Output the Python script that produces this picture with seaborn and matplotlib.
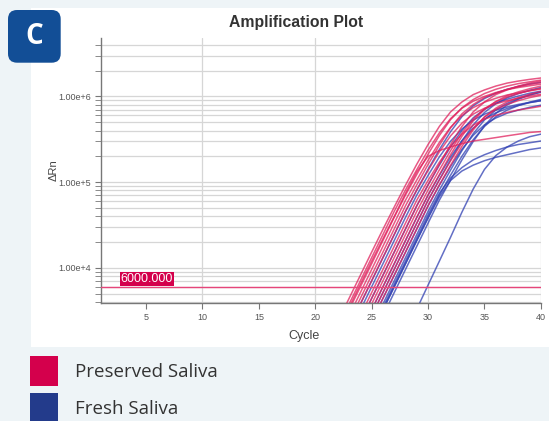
import numpy as np
import pandas as pd
import seaborn as sns
import matplotlib.pyplot as plt
from matplotlib.patches import Rectangle, FancyBboxPatch
from matplotlib.ticker import LogLocator, FuncFormatter, NullFormatter

# delta Rn per well for cycles 22..40 (earlier cycles sit below the axis)
cycles = list(range(22, 41))

preserved = [
    [2.37e3, 4.42e3, 8.22e3, 1.53e4, 2.82e4, 5.13e4, 9.23e4, 1.62e5, 2.75e5, 4.47e5, 6.61e5, 8.61e5, 1.05e6, 1.19e6, 1.32e6, 1.43e6, 1.51e6, 1.58e6, 1.64e6],
    [2.04e3, 3.80e3, 7.08e3, 1.32e4, 2.45e4, 4.57e4, 8.13e4, 1.40e5, 2.36e5, 3.76e5, 5.52e5, 7.28e5, 8.79e5, 1.00e6, 1.11e6, 1.20e6, 1.27e6, 1.33e6, 1.39e6],
    [1.82e3, 3.47e3, 6.46e3, 1.20e4, 2.19e4, 3.98e4, 7.41e4, 1.32e5, 2.00e5, 2.34e5, 2.57e5, 2.82e5, 3.02e5, 3.16e5, 3.31e5, 3.47e5, 3.63e5, 3.80e5, 3.89e5],
    [1.74e3, 3.24e3, 6.03e3, 1.12e4, 2.09e4, 3.89e4, 7.08e4, 1.23e5, 2.12e5, 3.50e5, 5.37e5, 7.36e5, 9.20e5, 1.08e6, 1.21e6, 1.32e6, 1.41e6, 1.48e6, 1.55e6],
    [1.49e3, 2.77e3, 5.16e3, 9.61e3, 1.79e4, 3.33e4, 6.17e4, 1.06e5, 1.80e5, 2.91e5, 4.38e5, 5.97e5, 7.41e5, 8.57e5, 9.51e5, 1.04e6, 1.10e6, 1.16e6, 1.22e6],
    [1.27e3, 2.37e3, 4.42e3, 8.22e3, 1.53e4, 2.85e4, 5.31e4, 9.31e4, 1.61e5, 2.70e5, 4.31e5, 6.27e5, 8.05e5, 9.70e5, 1.09e6, 1.21e6, 1.30e6, 1.38e6, 1.45e6],
    [1.09e3, 2.04e3, 3.80e3, 7.08e3, 1.32e4, 2.45e4, 4.57e4, 8.09e4, 1.37e5, 2.26e5, 3.47e5, 4.88e5, 6.22e5, 7.29e5, 8.18e5, 8.91e5, 9.57e5, 1.01e6, 1.06e6],
    [799, 1.49e3, 2.77e3, 5.16e3, 9.61e3, 1.79e4, 3.33e4, 6.17e4, 1.05e5, 1.71e5, 2.61e5, 3.63e5, 4.63e5, 5.43e5, 6.03e5, 6.51e5, 6.95e5, 7.29e5, 7.67e5],
    [684, 1.27e3, 2.37e3, 4.42e3, 8.22e3, 1.53e4, 2.85e4, 5.31e4, 9.33e4, 1.62e5, 2.75e5, 4.47e5, 6.61e5, 8.61e5, 1.05e6, 1.19e6, 1.32e6, 1.43e6, 1.51e6],
    [586, 1.09e3, 2.04e3, 3.80e3, 7.08e3, 1.32e4, 2.45e4, 4.57e4, 8.11e4, 1.39e5, 2.34e5, 3.73e5, 5.46e5, 7.16e5, 8.63e5, 9.82e5, 1.08e6, 1.17e6, 1.24e6],
    [501, 933, 1.74e3, 3.24e3, 6.03e3, 1.12e4, 2.09e4, 3.89e4, 7.08e4, 1.22e5, 2.10e5, 3.43e5, 5.19e5, 7.04e5, 8.73e5, 1.02e6, 1.13e6, 1.23e6, 1.32e6],
    [429, 799, 1.49e3, 2.77e3, 5.16e3, 9.61e3, 1.79e4, 3.33e4, 6.17e4, 1.06e5, 1.78e5, 2.86e5, 4.24e5, 5.73e5, 7.04e5, 8.08e5, 8.93e5, 9.68e5, 1.03e6],
    [367, 684, 1.27e3, 2.37e3, 4.42e3, 8.22e3, 1.53e4, 2.85e4, 5.31e4, 9.29e4, 1.58e5, 2.62e5, 4.07e5, 5.78e5, 7.29e5, 8.65e5, 9.66e5, 1.06e6, 1.14e6],
]

fresh = [
    [1.09e3, 2.04e3, 3.80e3, 7.08e3, 1.32e4, 2.45e4, 4.57e4, 8.13e4, 1.41e5, 2.40e5, 3.89e5, 5.81e5, 7.76e5, 9.46e5, 1.09e6, 1.21e6, 1.31e6, 1.40e6, 1.46e6],
    [933, 1.74e3, 3.24e3, 6.03e3, 1.12e4, 2.09e4, 3.89e4, 7.08e4, 1.20e5, 1.97e5, 3.01e5, 4.17e5, 5.30e5, 6.21e5, 6.93e5, 7.53e5, 8.07e5, 8.51e5, 8.91e5],
    [684, 1.27e3, 2.37e3, 4.42e3, 8.22e3, 1.53e4, 2.85e4, 5.31e4, 9.28e4, 1.58e5, 2.59e5, 4.00e5, 5.63e5, 7.06e5, 8.32e5, 9.27e5, 1.01e6, 1.09e6, 1.15e6],
    [501, 933, 1.74e3, 3.24e3, 6.03e3, 1.12e4, 2.09e4, 3.89e4, 7.08e4, 1.20e5, 1.98e5, 3.05e5, 4.27e5, 5.46e5, 6.43e5, 7.23e5, 7.85e5, 8.45e5, 8.91e5],
    [429, 799, 1.49e3, 2.77e3, 5.16e3, 9.61e3, 1.79e4, 3.33e4, 6.17e4, 1.07e5, 1.83e5, 3.02e5, 4.66e5, 6.50e5, 8.22e5, 9.64e5, 1.08e6, 1.18e6, 1.27e6],
    [367, 684, 1.27e3, 2.37e3, 4.42e3, 8.22e3, 1.53e4, 2.85e4, 5.31e4, 9.23e4, 1.53e5, 2.42e5, 3.52e5, 4.67e5, 5.60e5, 6.37e5, 6.93e5, 7.46e5, 7.91e5],
    [314, 586, 1.09e3, 2.04e3, 3.80e3, 7.08e3, 1.32e4, 2.45e4, 4.57e4, 8.11e4, 1.39e5, 2.33e5, 3.67e5, 5.32e5, 6.94e5, 8.31e5, 9.43e5, 1.04e6, 1.12e6],
    [269, 501, 933, 1.74e3, 3.24e3, 6.03e3, 1.12e4, 2.09e4, 3.89e4, 7.08e4, 1.21e5, 2.01e5, 3.13e5, 4.47e5, 5.79e5, 6.92e5, 7.82e5, 8.57e5, 9.23e5],
    [230, 429, 799, 1.49e3, 2.77e3, 5.16e3, 9.61e3, 1.79e4, 3.33e4, 6.17e4, 1.06e5, 1.82e5, 2.98e5, 4.56e5, 6.32e5, 7.94e5, 9.27e5, 1.04e6, 1.13e6],
    [269, 501, 933, 1.74e3, 3.24e3, 6.03e3, 1.12e4, 2.09e4, 3.80e4, 6.76e4, 1.05e5, 1.35e5, 1.58e5, 1.78e5, 1.95e5, 2.09e5, 2.24e5, 2.40e5, 2.51e5],
    [288, 537, 1.00e3, 1.86e3, 3.47e3, 6.46e3, 1.20e4, 2.24e4, 4.17e4, 7.41e4, 1.12e5, 1.48e5, 1.82e5, 2.09e5, 2.34e5, 2.57e5, 2.75e5, 2.88e5, 3.02e5],
    [36, 69, 132, 251, 479, 912, 1.74e3, 3.31e3, 6.31e3, 1.20e4, 2.29e4, 4.47e4, 8.32e4, 1.41e5, 2.04e5, 2.57e5, 3.02e5, 3.39e5, 3.63e5],
]

threshold = 6000
groups = ["Preserved Saliva", "Fresh Saliva"]
line_colors = {"Preserved Saliva": "#e0205c", "Fresh Saliva": "#2f3fb2"}
key_colors = {"Preserved Saliva": "#d4004c", "Fresh Saliva": "#233b8b"}

rows = []
for name, curves in zip(groups, [preserved, fresh]):
    for i, vals in enumerate(curves):
        for c, v in zip(cycles, vals):
            rows.append((name, f"{name}-{i}", c, v))
df = pd.DataFrame(rows, columns=["sample", "well", "Cycle", "dRn"])

sns.set_style("white")
plt.rcParams["font.family"] = ["Liberation Sans", "DejaVu Sans"]

W, H = 549, 421
fig = plt.figure(figsize=(W / 100, H / 100), dpi=100, facecolor="#eef4f7")

# white card behind the chart
fig.patches.append(Rectangle((31 / W, 74 / H), 518 / W, 339 / H, transform=fig.transFigure,
                             facecolor="white", edgecolor="none", zorder=-5))

ax = fig.add_axes([100.9 / W, 118 / H, 440 / W, 265 / H])
ax.set_facecolor("white")
ax.set_axisbelow(True)

for x in [10, 20, 30, 40]:
    ax.axvline(x, color="#d6d6d6", lw=0.9, zorder=0)

sns.lineplot(data=df, x="Cycle", y="dRn", hue="sample", units="well", estimator=None,
             hue_order=["Fresh Saliva", "Preserved Saliva"], palette=line_colors,
             lw=1.1, alpha=0.75, legend=False, ax=ax)

ax.axhline(threshold, color="#e6457a", lw=1.0, zorder=3)
ax.text(2.75, 7.45e3, "6000.000", color="white", fontsize=9, va="center", ha="left",
        bbox=dict(facecolor="#d4004c", edgecolor="none", pad=0.8), zorder=4)

ax.set_yscale("log")
ax.set_xlim(1, 40)
ax.set_ylim(3.9e3, 4.8e6)
ax.set_xticks(range(5, 41, 5))
ax.yaxis.set_major_locator(LogLocator(base=10, numticks=10))
ax.yaxis.set_minor_locator(LogLocator(base=10, subs=np.arange(2, 10), numticks=20))
ax.yaxis.set_major_formatter(FuncFormatter(lambda v, p: f"1.00e+{int(round(np.log10(v)))}"))
ax.yaxis.set_minor_formatter(NullFormatter())
ax.grid(which="both", axis="y", color="#d6d6d6", lw=0.9)
ax.grid(False, axis="x")

ax.set_xlabel("")
ax.set_ylabel("")
for s in ["top", "right"]:
    ax.spines[s].set_visible(False)
for s in ["left", "bottom"]:
    ax.spines[s].set_color("#777777")
    ax.spines[s].set_linewidth(1)
ax.tick_params(axis="both", which="both", bottom=True, left=True, direction="out",
               color="#777777", labelcolor="#555555", labelsize=6.5)
ax.tick_params(axis="both", which="major", length=4, pad=3)
ax.tick_params(axis="y", which="minor", length=4)

fig.text(296 / W, 1 - 22 / H, "Amplification Plot", ha="center", va="center",
         fontsize=11.3, fontweight="bold", color="#333333")
fig.text(304 / W, 1 - 336 / H, "Cycle", ha="center", va="center", fontsize=9, color="#444444")
fig.text(54 / W, 1 - 170 / H, "ΔRn", ha="center", va="center", rotation=90, fontsize=8,
         color="#444444")

# panel badge
fig.patches.append(FancyBboxPatch((0.08, (H - 62.7) / 100), 0.527, 0.527,
                                  boxstyle="round,pad=0,rounding_size=0.09",
                                  transform=fig.dpi_scale_trans, facecolor="#124e96",
                                  edgecolor="none", zorder=5))
fig.text(34.5 / W, 1 - 37 / H, "C", ha="center", va="center", fontsize=20, fontweight="bold",
         color="white", family=["Open Sans", "DejaVu Sans"], zorder=6)

# colour key under the card
key_y = [356, 393]
for name, y in zip(groups, key_y):
    fig.patches.append(Rectangle((30 / W, 1 - (y + 30) / H), 28 / W, 30 / H,
                                 transform=fig.transFigure, facecolor=key_colors[name],
                                 edgecolor="none"))
    fig.text(75 / W, 1 - (y + 16) / H, name, ha="left", va="center", fontsize=13.5,
             color="#333333", family=["Open Sans", "DejaVu Sans"])

fig.savefig("out.png", dpi=100, facecolor=fig.get_facecolor())
